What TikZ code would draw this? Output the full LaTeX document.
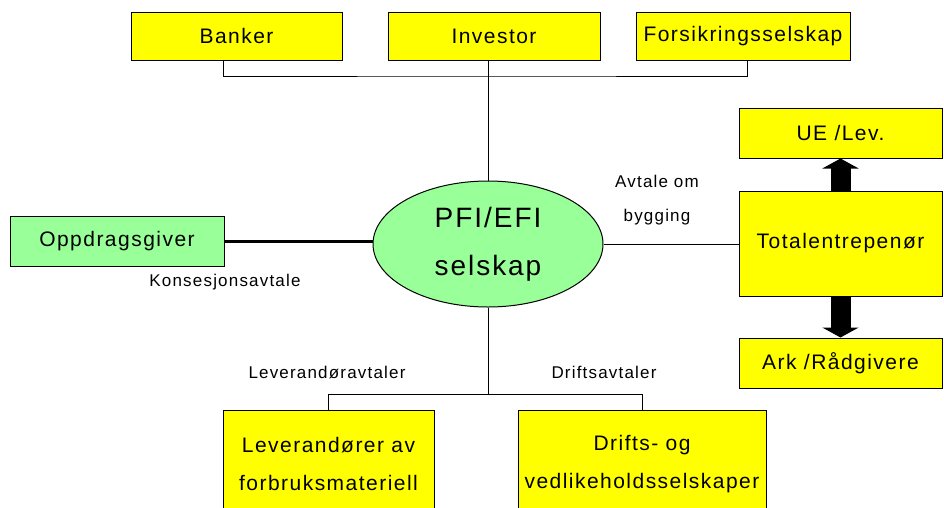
\documentclass[tikz,border=0pt]{standalone}
\usepackage{fontspec}
\setmainfont{Liberation Sans}[LetterSpace=7]
\usepackage{xcolor}
\usetikzlibrary{arrows.meta, calc, shapes.geometric}
\definecolor{boxyellow}{RGB}{255,255,0}
\definecolor{boxgreen}{RGB}{153,255,153}
\tikzset{
  box/.style={draw=black, line width=1pt, fill=boxyellow, inner sep=0pt,
    align=center, font=\fontsize{21}{38}\selectfont},
  greenbox/.style={box, fill=boxgreen},
  lab/.style={inner sep=0pt, align=center, font=\fontsize{17}{34}\selectfont},
  bigarrow/.style={line width=20pt, -{Triangle[width=36pt,length=10pt]}}
}

\begin{document}
\begin{tikzpicture}[x=1pt, y=-1pt]
\useasboundingbox (0,0) rectangle (944,507);
\clip (0,0) rectangle (944,507);
\begin{scope}[every node/.style={box, minimum height=48pt}]
    \node[minimum width=211pt] (bank) at (236.5,36) {Banker};
    \node[minimum width=212pt] (inv) at (494,36) {Investor};
    \node[minimum width=214pt] (fors) at (743,36) {Forsikringsselskap};
\end{scope}
\begin{scope}[every node/.style={box, minimum width=203pt, minimum height=50pt}]
    \node (ue) at (840.5,133) {UE /Lev.};
    \node[minimum height=105pt] (tot) at (840.5,243.5) {Totalentrepenør};
    \node (ark) at (840.5,363) {Ark /Rådgivere};
\end{scope}
    \node[box, minimum width=211pt, minimum height=108pt] (lev) at (328.5,464)
        {Leverandører av\\forbruksmateriell};
    \node[box, minimum width=248pt, minimum height=108pt] (drift) at (642,464)
        {Drifts- og\\vedlikeholdsselskaper};
    \node[greenbox, minimum width=214pt, minimum height=50pt] (opp) at (117,241)
        {Oppdragsgiver};
    \node[greenbox, ellipse, minimum width=230pt, minimum height=126pt,
        font=\fontsize{28}{48}\selectfont] (ell) at (488,244) {PFI/EFI\\selskap};
\coordinate (bust) at (488,76);
\coordinate (busb) at (488,394);
\node[lab] (kons) at (225,282) {Konsesjonsavtale};
\node[lab] (bygg) at (657,200) {Avtale om\\bygging};
\node[lab] (levavt) at (327,372) {Leverandøravtaler};
\node[lab] (driftavt) at (604,372) {Driftsavtaler};
\begin{scope}[every path/.style={draw=black, line width=1pt}]
    \path (ell.north) -- (ell.north |- inv.south);
    \path ([xshift=-13pt]bank.south) |- (bust) -| ([xshift=4pt]fors.south);
    \path (ell.south) -- (busb);
    \path (lev.north) |- (busb) -| (drift.north);
    \path (ell.east) -- (ell.east -| tot.west);
    \path [line width=3pt] (opp.east) -- (opp.east -| ell.west);
\end{scope}
\draw[bigarrow] (tot.north) -- (ue.south);
\draw[bigarrow] (tot.south) -- (ark.north);
\end{tikzpicture}
\end{document}
